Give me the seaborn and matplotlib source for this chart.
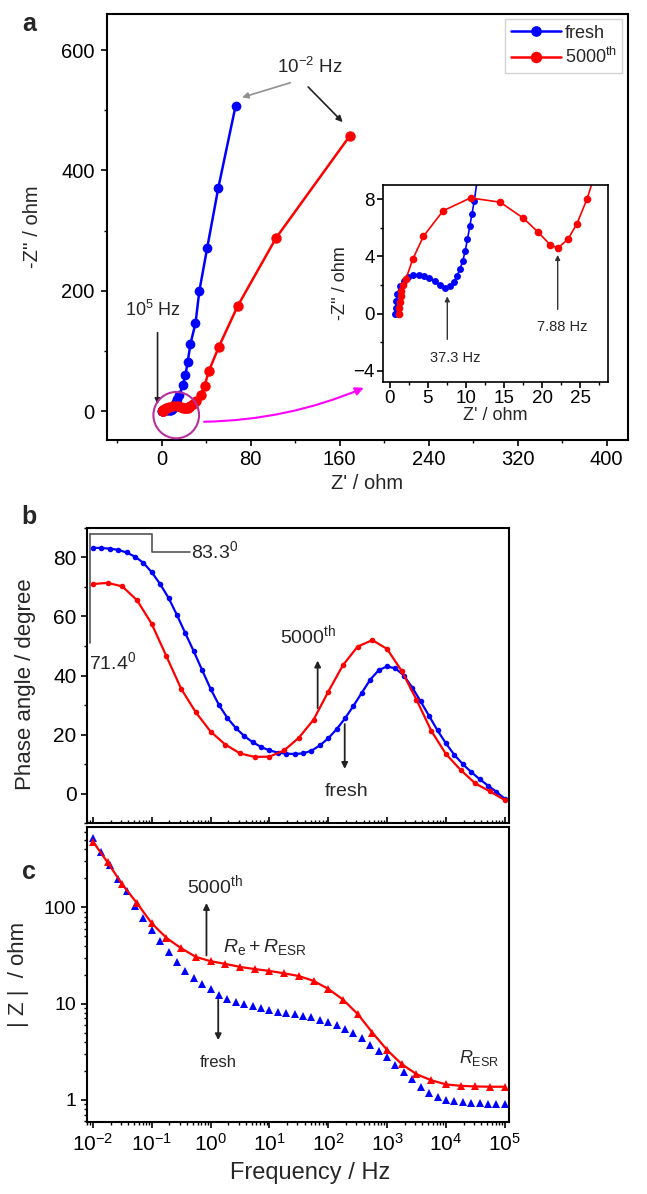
import numpy as np
import matplotlib
matplotlib.use('Agg')
import matplotlib.pyplot as plt
from matplotlib.patches import Ellipse
from matplotlib.ticker import MultipleLocator, NullFormatter, LogLocator
import seaborn as sns

# --- panel a: Nyquist data, high -> low frequency (ohm) ---
fresh_zre = [0.7, 0.75, 0.85, 1.0, 1.3, 1.8, 2.4, 3.1, 3.8, 4.5, 5.2, 5.9, 6.6, 7.3,
             7.9, 8.4, 8.8, 9.2, 9.6, 9.9, 10.2, 10.5, 10.8, 11.1, 11.9, 12.8, 14.0,
             16.0, 19.0, 21.5, 23.5, 26.0, 30.5, 34.0, 41.0, 51.0, 66.5]
fresh_zim = [0.0, 0.4, 0.9, 1.4, 1.9, 2.3, 2.55, 2.7, 2.72, 2.65, 2.5, 2.25, 2.0, 1.8,
             1.9, 2.2, 2.6, 3.1, 3.7, 4.4, 5.2, 6.1, 7.0, 7.9, 11, 15, 20,
             26, 43, 60, 82, 112, 146, 200, 271, 371, 507]
cyc_zre = [1.2, 1.25, 1.3, 1.4, 1.5, 1.7, 2.1, 3.0, 4.4, 7.0, 10.6, 14.5, 17.5, 19.5,
           21.1, 22.1, 23.4, 24.6, 25.9, 28.0, 31.0, 35.6, 38.6, 42.6, 51.5, 68.5, 103, 169]
cyc_zim = [0.0, 0.4, 0.8, 1.2, 1.6, 2.0, 2.4, 3.8, 5.4, 7.2, 8.1, 7.8, 6.7, 5.7,
           4.8, 4.6, 5.2, 6.3, 8.0, 11.5, 16, 27, 42, 67, 107, 175, 288, 457]

# --- panels b, c: Bode data ---
# measurement sweep 10^-2 .. 10^5 Hz (7 and 4 points per decade)
freq_fresh = np.logspace(-2, 5, 50)
freq_cyc = np.logspace(-2, 5, 29)

phase_fresh = [83.3, 83.2, 83.0, 82.6, 81.7, 80.3, 78.2, 75.0, 71.0, 66.3,
               60.5, 54.3, 48.2, 41.8, 35.5, 30.0, 25.6, 22.2, 19.5, 17.4,
               15.8, 14.6, 13.9, 13.5, 13.4, 13.6, 14.5, 16.3, 18.7, 21.8,
               25.5, 29.7, 34.2, 38.6, 41.8, 43.1, 42.4, 40.0, 35.9, 31.2,
               26.3, 21.4, 17.0, 13.1, 10.0, 7.3, 4.9, 2.7, 0.6, -1.8]
phase_cyc = [71.0, 71.4, 70.2, 65.5, 57.5, 46.5, 35.5, 27.5, 21.0, 16.6,
             13.6, 12.4, 12.5, 14.6, 18.9, 25.0, 34.5, 43.5, 49.8, 52.0,
             49.0, 41.5, 31.8, 21.3, 13.4, 8.0, 3.4, 0.7, -2.2]

zmod_fresh = [520, 375, 272, 196, 146, 103, 78, 58, 45, 34.5,
              27.0, 22.0, 18.3, 15.8, 14.0, 12.3, 11.1, 10.4, 9.9, 9.4,
              8.9, 8.5, 8.2, 8.0, 7.8, 7.5, 7.2, 6.8, 6.4, 6.0,
              5.5, 4.9, 4.35, 3.7, 3.25, 2.8, 2.3, 1.95, 1.65, 1.37,
              1.17, 1.07, 1.01, 0.98, 0.96, 0.94, 0.92, 0.91, 0.91, 0.91]
zmod_cyc = [480, 292, 172, 110, 68, 48, 37.5, 30.5, 27.5, 25.8,
            24.0, 22.8, 21.8, 20.6, 19.3, 17.2, 14.2, 11.0, 7.8, 5.0,
            3.3, 2.35, 1.85, 1.6, 1.45, 1.40, 1.38, 1.37, 1.37]

BLUE = '#0000ff'
RED = '#ff0000'

sns.set_theme(style='ticks')
plt.rcParams['font.family'] = ['Liberation Sans', 'DejaVu Sans']
plt.rcParams.update({
    'mathtext.fontset': 'custom',
    'mathtext.rm': 'Liberation Sans',
    'mathtext.it': 'Liberation Sans:italic',
    'axes.linewidth': 1.5,
    'axes.edgecolor': 'black',
    'xtick.color': 'black',
    'ytick.color': 'black',
    'xtick.major.size': 4,
    'ytick.major.size': 4,
    'xtick.minor.size': 2.5,
    'ytick.minor.size': 2.5,
    'xtick.major.width': 1.2,
    'ytick.major.width': 1.2,
})

fig = plt.figure(figsize=(6.47, 11.94), dpi=100)
ax_a = fig.add_axes([0.1654, 0.6315, 0.805, 0.3568])
ax_in = fig.add_axes([0.592, 0.680, 0.348, 0.165])
ax_b = fig.add_axes([0.1345, 0.3107, 0.652, 0.2471])
ax_c = fig.add_axes([0.1345, 0.0603, 0.652, 0.2471])

# ---------------- panel a ----------------
sns.lineplot(x=fresh_zre, y=fresh_zim, sort=False, estimator=None, ax=ax_a,
             color=BLUE, marker='o', markersize=7, markeredgewidth=0,
             linewidth=1.8, label='fresh')
sns.lineplot(x=cyc_zre, y=cyc_zim, sort=False, estimator=None, ax=ax_a,
             color=RED, marker='o', markersize=7.5, markeredgewidth=0,
             linewidth=1.8, label='5000$^{\\rm th}$')
ax_a.set_xlim(-49, 419)
ax_a.set_ylim(-48, 660)
ax_a.set_xticks([0, 80, 160, 240, 320, 400])
ax_a.set_yticks([0, 200, 400, 600])
ax_a.xaxis.set_minor_locator(MultipleLocator(40))
ax_a.yaxis.set_minor_locator(MultipleLocator(100))
ax_a.tick_params(which='both', labelsize=14.5)
ax_a.tick_params(axis='y', pad=5)
ax_a.set_xlabel("Z' / ohm", fontsize=14.5, labelpad=3)
ax_a.set_ylabel("-Z'' / ohm", fontsize=14.5)
ax_a.yaxis.set_label_coords(-0.125, 0.5)
ax_a.legend(loc='upper right', fontsize=13, frameon=True, fancybox=False,
            edgecolor='#c8c8c8', borderaxespad=0.3, handlelength=2.8,
            handletextpad=0.2, borderpad=0.3, labelspacing=0.3, markerscale=1.1)

ax_a.text(133, 572, '10$^{-2}$ Hz', fontsize=13.5, ha='center', va='center')
ax_a.annotate('', xy=(70, 520), xytext=(118, 547),
              arrowprops=dict(arrowstyle='-|>', color='#909090', lw=1.2, mutation_scale=9))
ax_a.annotate('', xy=(164.5, 477), xytext=(130, 542),
              arrowprops=dict(arrowstyle='-|>', color='#222222', lw=1.2, mutation_scale=9))
ax_a.text(-8, 168, '10$^5$ Hz', fontsize=13, ha='center', va='center')
ax_a.annotate('', xy=(-3.6, 7), xytext=(-3.6, 135),
              arrowprops=dict(arrowstyle='-|>', color='#222222', lw=1.2, mutation_scale=8))
ax_a.add_patch(Ellipse((13.2, -6.7), 41, 77, fill=False, edgecolor='#b8309c', lw=1.5, zorder=5))
ax_a.annotate('', xy=(184, 40.5), xytext=(35.7, -17.8),
              arrowprops=dict(arrowstyle='-|>', color='#ff00ff', lw=1.5, mutation_scale=12,
                              connectionstyle='arc3,rad=0.1'))

# inset
sns.lineplot(x=fresh_zre, y=fresh_zim, sort=False, estimator=None, ax=ax_in,
             color=BLUE, marker='o', markersize=5, markeredgewidth=0, linewidth=1.2)
sns.lineplot(x=cyc_zre, y=cyc_zim, sort=False, estimator=None, ax=ax_in,
             color=RED, marker='o', markersize=5.5, markeredgewidth=0, linewidth=1.2)
ax_in.set_xlim(-0.9, 28.7)
ax_in.set_ylim(-4.8, 9)
ax_in.set_xticks([0, 5, 10, 15, 20, 25])
ax_in.set_yticks([-4, 0, 4, 8])
ax_in.xaxis.set_minor_locator(MultipleLocator(2.5))
ax_in.yaxis.set_minor_locator(MultipleLocator(2))
ax_in.tick_params(which='both', labelsize=13.5, pad=2)
ax_in.set_xlabel("Z' / ohm", fontsize=13, labelpad=0)
ax_in.set_ylabel("-Z'' / ohm", fontsize=13)
ax_in.yaxis.set_label_coords(-0.15, 0.5)
for s in ax_in.spines.values():
    s.set_linewidth(1.2)
ax_in.text(8.55, -3.1, '37.3 Hz', fontsize=10.5, ha='center', va='center')
ax_in.annotate('', xy=(7.55, 1.4), xytext=(7.55, -2.0),
               arrowprops=dict(arrowstyle='-|>', color='#333333', lw=1.0, mutation_scale=7))
ax_in.text(22.6, -0.96, '7.88 Hz', fontsize=10.5, ha='center', va='center')
ax_in.annotate('', xy=(22.06, 4.3), xytext=(22.06, 0.1),
               arrowprops=dict(arrowstyle='-|>', color='#333333', lw=1.0, mutation_scale=7))

# ---------------- panel b ----------------
ax_b.set_xscale('log')
sns.lineplot(x=freq_fresh, y=phase_fresh, ax=ax_b, color=BLUE, marker='o',
             markersize=4, markeredgewidth=0, linewidth=1.6)
sns.lineplot(x=freq_cyc, y=phase_cyc, ax=ax_b, color=RED, marker='o',
             markersize=4, markeredgewidth=0, linewidth=1.6)
ax_b.set_xlim(10 ** -2.1, 10 ** 5.07)
ax_b.set_ylim(-10, 90)
ax_b.set_yticks([0, 20, 40, 60, 80])
ax_b.yaxis.set_minor_locator(MultipleLocator(10))
ax_b.xaxis.set_major_locator(LogLocator(base=10, numticks=15))
ax_b.xaxis.set_minor_locator(LogLocator(base=10, subs=np.arange(2, 10), numticks=15))
ax_b.xaxis.set_minor_formatter(NullFormatter())
ax_b.tick_params(axis='x', which='both', direction='in', labelbottom=False)
ax_b.tick_params(axis='y', which='both', labelsize=15)
ax_b.set_ylabel('Phase angle / degree', fontsize=16)
ax_b.yaxis.set_label_coords(-0.121, 0.47)

ax_b.plot([10 ** -2.05, 10 ** -1.0, 10 ** -1.0, 10 ** -0.35], [88, 88, 81.7, 81.7],
          color='#555555', lw=1.2)
ax_b.plot([10 ** -2.05, 10 ** -2.05], [88, 51], color='#555555', lw=1.2)
ax_b.text(10 ** -0.34, 82.2, '83.3$^0$', fontsize=14, ha='left', va='center')
ax_b.text(10 ** -2.06, 44.4, '71.4$^0$', fontsize=14, ha='left', va='center')
ax_b.text(10 ** 1.65, 53.8, '5000$^{\\rm th}$', fontsize=14, ha='center', va='center')
ax_b.annotate('', xy=(10 ** 1.82, 46), xytext=(10 ** 1.82, 28),
              arrowprops=dict(arrowstyle='-|>', color='#222222', lw=1.3, mutation_scale=9))
ax_b.text(10 ** 2.31, 0.7, 'fresh', fontsize=14, ha='center', va='center')
ax_b.annotate('', xy=(10 ** 2.28, 7.4), xytext=(10 ** 2.28, 24.5),
              arrowprops=dict(arrowstyle='-|>', color='#222222', lw=1.3, mutation_scale=9))

# ---------------- panel c ----------------
ax_c.set_xscale('log')
ax_c.set_yscale('log')
sns.lineplot(x=freq_fresh, y=zmod_fresh, ax=ax_c, color=BLUE, marker='^',
             markersize=5.5, markeredgewidth=0, linewidth=0)
sns.lineplot(x=freq_cyc, y=zmod_cyc, ax=ax_c, color=RED, marker='^',
             markersize=5.5, markeredgewidth=0, linewidth=1.6)
ax_c.set_xlim(10 ** -2.1, 10 ** 5.07)
ax_c.set_ylim(0.59, 680)
ax_c.set_xticks([1e-2, 1e-1, 1e0, 1e1, 1e2, 1e3, 1e4, 1e5])
ax_c.xaxis.set_minor_locator(LogLocator(base=10, subs=np.arange(2, 10), numticks=15))
ax_c.xaxis.set_minor_formatter(NullFormatter())
ax_c.set_yticks([1, 10, 100])
ax_c.set_yticklabels(['1', '10', '100'])
ax_c.yaxis.set_minor_locator(LogLocator(base=10, subs=np.arange(2, 10), numticks=15))
ax_c.yaxis.set_minor_formatter(NullFormatter())
ax_c.tick_params(axis='x', which='both', labelsize=15)
ax_c.tick_params(axis='y', which='both', labelsize=14)
ax_c.set_xlabel('Frequency / Hz', fontsize=17)
ax_c.xaxis.set_label_coords(0.53, -0.135)
ax_c.set_ylabel('| Z |  / ohm', fontsize=16)
ax_c.yaxis.set_label_coords(-0.137, 0.5)

ax_c.text(10 ** 0.07, 170, '5000$^{\\rm th}$', fontsize=14, ha='center', va='center')
ax_c.annotate('', xy=(10 ** -0.07, 118), xytext=(10 ** -0.07, 29.5),
              arrowprops=dict(arrowstyle='-|>', color='#222222', lw=1.3, mutation_scale=9))
ax_c.text(10 ** 0.92, 38.5, '$R_{\\rm e}+R_{\\rm ESR}$', fontsize=14, ha='center', va='center')
ax_c.text(10 ** 0.13, 2.47, 'fresh', fontsize=12, ha='center', va='center')
ax_c.annotate('', xy=(10 ** 0.13, 3.9), xytext=(10 ** 0.13, 11.7),
              arrowprops=dict(arrowstyle='-|>', color='#222222', lw=1.3, mutation_scale=9))
ax_c.text(10 ** 4.57, 2.72, '$R_{\\rm ESR}$', fontsize=13, ha='center', va='center')

for lab, y in (('a', 0.980), ('b', 0.567), ('c', 0.270)):
    fig.text(0.045, y, lab, fontsize=18, fontweight='bold', ha='center', va='center')

fig.savefig('out.png', dpi=100)
